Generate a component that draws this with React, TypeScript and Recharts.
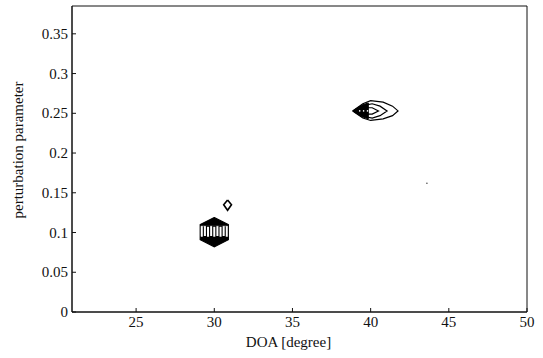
import { Label, ReferenceArea, Scatter, ScatterChart, XAxis, YAxis } from 'recharts';

// contour vertices: [DOA deg, perturbation]
const hexOuter = [
  [30.0, 0.119], [30.9, 0.110], [30.9, 0.091], [30.0, 0.082],
  [29.1, 0.091], [29.1, 0.110], [30.0, 0.119],
];
const hexBand = [
  [29.15, 0.108], [30.85, 0.108], [30.85, 0.095], [29.15, 0.095], [29.15, 0.108],
];
const hexStripes = [
  [29.3, 0.108], [29.3, 0.095], [29.5, 0.095], [29.5, 0.108], [29.7, 0.108],
  [29.7, 0.095], [29.9, 0.095], [29.9, 0.108], [30.1, 0.108], [30.1, 0.095],
  [30.3, 0.095], [30.3, 0.108], [30.5, 0.108], [30.5, 0.095], [30.7, 0.095],
  [30.7, 0.108],
];
const diamond = [
  [30.85, 0.141], [31.1, 0.135], [30.85, 0.128], [30.6, 0.135], [30.85, 0.141],
];
const lensOuter = [
  [38.85, 0.253], [39.5, 0.262], [40.0, 0.266], [40.8, 0.264], [41.4, 0.259],
  [41.75, 0.253], [41.4, 0.247], [40.8, 0.243], [40.0, 0.241], [39.5, 0.244],
  [38.85, 0.253],
];
const lensMid = [
  [38.95, 0.253], [39.6, 0.260], [40.1, 0.262], [40.6, 0.259], [41.05, 0.253],
  [40.6, 0.247], [40.1, 0.244], [39.6, 0.246], [38.95, 0.253],
];
const lensInner = [
  [39.1, 0.253], [39.7, 0.257], [40.1, 0.257], [40.5, 0.253],
  [40.1, 0.249], [39.7, 0.249], [39.1, 0.253],
];
const lensDark = [
  [38.85, 0.253], [39.4, 0.260], [39.85, 0.263], [39.85, 0.243], [39.4, 0.246],
  [38.85, 0.253],
];
const lensDots = [
  [39.3, 0.253], [39.55, 0.253], [39.8, 0.253], [40.05, 0.253],
];
const specks = [[43.6, 0.162]];

const xTicks = [25, 30, 35, 40, 45, 50];
const yTicks = [0, 0.05, 0.1, 0.15, 0.2, 0.25, 0.3, 0.35];

const toPts = (a: number[][]) => a.map(([x, y]) => ({ x, y }));
const noShape = () => <g />;
const font = '"Liberation Serif", "Times New Roman", serif';
const textStyle = { fill: '#111', fontSize: 15, fontFamily: font };

const XTick = (p: any) => (
  <text x={p.x} y={p.y} dy={15} textAnchor="middle" fill="#111" fontSize={15} fontFamily={font}>
    {p.payload.value}
  </text>
);
const YTick = (p: any) => (
  <text x={p.x} y={p.y} dy={5} textAnchor="end" fill="#111" fontSize={15} fontFamily={font}>
    {p.payload.value}
  </text>
);

export default function App() {
  return (
    <div style={{ position: 'absolute', left: 0, top: 0, background: '#fff', fontFamily: font }}>
      <ScatterChart
        width={543}
        height={358}
        margin={{ top: 6, right: 16, left: 12, bottom: 0 }}
      >
        <XAxis
          dataKey="x"
          type="number"
          domain={[20.9, 50]}
          ticks={xTicks}
          allowDataOverflow
          height={46}
          stroke="#111"
          tickSize={-4}
          tickMargin={4}
          tick={XTick}
        >
          <Label
            value="DOA [degree]"
            position="insideBottom"
            offset={11}
            dx={-11}
            style={textStyle}
          />
        </XAxis>
        <YAxis
          dataKey="y"
          type="number"
          domain={[0, 0.385]}
          ticks={yTicks}
          allowDataOverflow
          width={60}
          stroke="#111"
          tickSize={-4}
          tickMargin={8}
          tick={YTick}
        >
          <Label
            content={() => (
              <text
                x={23}
                y={150}
                transform="rotate(-90 23 150)"
                textAnchor="middle"
                fill="#111"
                fontSize={15}
                fontFamily={font}
              >
                perturbation parameter
              </text>
            )}
          />
        </YAxis>
        <ReferenceArea
          x1={20.9}
          x2={50}
          y1={0}
          y2={0.385}
          fill="none"
          stroke="#111"
          strokeWidth={1}
          fillOpacity={0}
        />
        <Scatter data={toPts(hexOuter)} shape={noShape} line={{ stroke: '#000', strokeWidth: 1.2, fill: '#000' }} isAnimationActive={false} />
        <Scatter data={toPts(hexBand)} shape={noShape} line={{ stroke: '#fff', strokeWidth: 0.5, fill: '#fff' }} isAnimationActive={false} />
        <Scatter data={toPts(hexStripes)} shape={noShape} line={{ stroke: '#000', strokeWidth: 1.1 }} isAnimationActive={false} />
        <Scatter data={toPts(diamond)} shape={noShape} line={{ stroke: '#000', strokeWidth: 1.6 }} isAnimationActive={false} />
        <Scatter data={toPts(lensOuter)} shape={noShape} line={{ stroke: '#000', strokeWidth: 1.2 }} isAnimationActive={false} />
        <Scatter data={toPts(lensMid)} shape={noShape} line={{ stroke: '#000', strokeWidth: 1.2 }} isAnimationActive={false} />
        <Scatter data={toPts(lensDark)} shape={noShape} line={{ stroke: '#000', strokeWidth: 1, fill: '#000' }} isAnimationActive={false} />
        <Scatter data={toPts(lensInner)} shape={noShape} line={{ stroke: '#000', strokeWidth: 1.2 }} isAnimationActive={false} />
        <Scatter data={toPts(lensDots)} fill="#fff" shape={(p: any) => <circle cx={p.cx} cy={p.cy} r={0.8} fill="#fff" />} isAnimationActive={false} />
        <Scatter data={toPts(specks)} fill="#333" shape={(p: any) => <circle cx={p.cx} cy={p.cy} r={0.7} fill="#333" />} isAnimationActive={false} />
      </ScatterChart>
    </div>
  );
}
